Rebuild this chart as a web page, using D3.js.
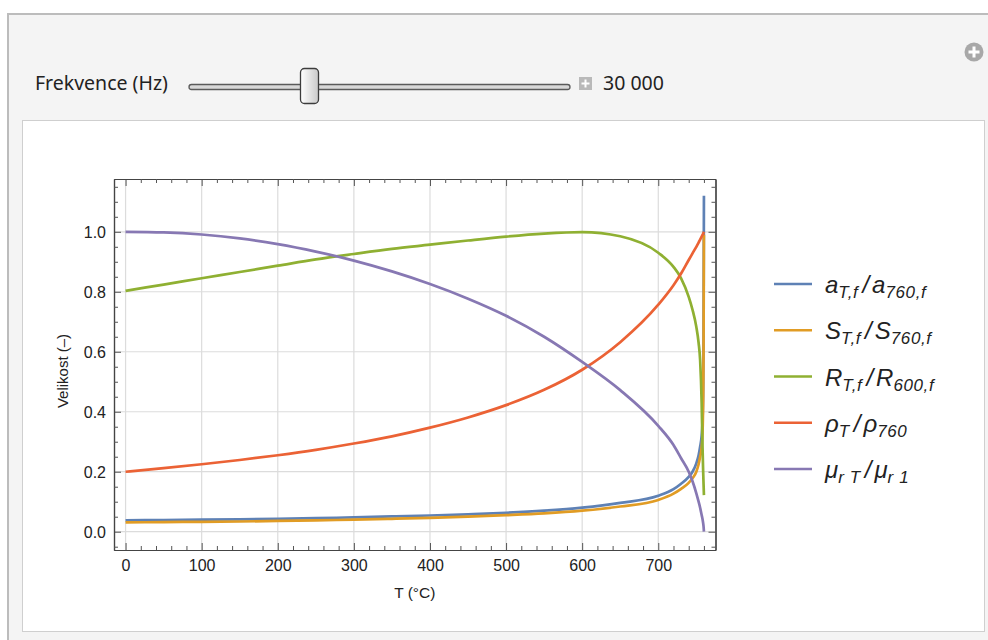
<!DOCTYPE html>
<html>
<head>
<meta charset="utf-8">
<script src="https://cdn.jsdelivr.net/npm/d3@7/dist/d3.min.js"></script>
<style>
  html, body { margin: 0; padding: 0; background: #ffffff; }
  svg { display: block; }
</style>
</head>
<body>
<svg id="chart" width="988" height="640"></svg>
<script>
// Temperature samples (°C)
const temps = [0, 50, 100, 150, 200, 250, 300, 350, 400, 450, 500, 550, 600, 650, 700,
               720, 730, 740, 745, 750, 753, 755, 757, 758, 759, 759.5, 760];

// Normalised quantities at those temperatures
const aRatio = [0.038, 0.039, 0.040, 0.041, 0.043, 0.045, 0.048, 0.051, 0.054, 0.058, 0.063, 0.070, 0.080, 0.096, 0.120,
                0.142, 0.160, 0.183, 0.200, 0.228, 0.255, 0.283, 0.320, 0.360, 0.480, 0.650, 1.120];
const sRatio = [0.031, 0.032, 0.033, 0.034, 0.036, 0.038, 0.040, 0.043, 0.046, 0.050, 0.055, 0.061, 0.070, 0.084, 0.106,
                0.127, 0.143, 0.163, 0.178, 0.200, 0.225, 0.250, 0.280, 0.320, 0.440, 0.600, 0.990];
const rRatio = [0.803, 0.824, 0.845, 0.866, 0.887, 0.908, 0.926, 0.943, 0.957, 0.971, 0.984, 0.994, 0.999, 0.985, 0.930,
                0.883, 0.845, 0.783, 0.740, 0.683, 0.630, 0.572, 0.430, 0.300, 0.200, 0.160, 0.122];
const rhoRatio = [0.200, 0.212, 0.225, 0.239, 0.255, 0.273, 0.294, 0.318, 0.347, 0.381, 0.422, 0.473, 0.540, 0.632, 0.757,
                  0.822, 0.861, 0.906, 0.928, 0.950, 0.964, 0.974, 0.984, 0.989, 0.994, 0.997, 1.000];
const muRatio = [1.000, 0.998, 0.991, 0.978, 0.959, 0.934, 0.904, 0.868, 0.826, 0.777, 0.720, 0.650, 0.566, 0.472, 0.353,
                 0.289, 0.245, 0.200, 0.168, 0.128, 0.100, 0.080, 0.056, 0.044, 0.028, 0.018, 0.000];

const seriesValues = [aRatio, sRatio, rRatio, rhoRatio, muRatio];
const seriesColors = ["#5E81B5", "#E19C24", "#8FB032", "#EB6235", "#8778B3"];

// Legend label pieces: main symbol, numerator subscript, denominator subscript
const legendSymbols = ["a", "S", "R", "ρ", "μ"];
const legendNumSubs = ["T,f", "T,f", "T,f", "T", "r T"];
const legendDenSubs = ["760,f", "760,f", "600,f", "760", "r 1"];

// Axis ticks
const xMajorTicks = [0, 100, 200, 300, 400, 500, 600, 700];
const yMajorTicks = [0.0, 0.2, 0.4, 0.6, 0.8, 1.0];
const xMinorStep = 20;
const yMinorStep = 0.05;

const xTitle = "T (°C)";
const yTitle = "Velikost (–)";
const sliderLabel = "Frekvence (Hz)";
const sliderValue = "30 000";

const svg = d3.select("#chart");

// ---------- control panel ----------
svg.append("rect").attr("x", 8).attr("y", 14).attr("width", 990).attr("height", 640)
  .attr("fill", "#f4f4f4").attr("stroke", "#bcbcbc").attr("stroke-width", 2);

// add-control icon (circled plus)
svg.append("circle").attr("cx", 974).attr("cy", 52).attr("r", 9.5).attr("fill", "#a8a8a8");
svg.append("path").attr("d", "M968.5,52H979.5M974,46.5V57.5")
  .attr("stroke", "#ffffff").attr("stroke-width", 3);

const uiFont = "'Noto Sans', 'Open Sans', sans-serif";
svg.append("text").attr("x", 35).attr("y", 90)
  .attr("font-family", uiFont).attr("font-size", 19.5)
  .attr("fill", "#222").text(sliderLabel);

// slider track
svg.append("rect").attr("x", 189).attr("y", 84.5).attr("width", 381).attr("height", 5).attr("rx", 2.5)
  .attr("fill", "#d8d8d8").attr("stroke", "#5a5a5a").attr("stroke-width", 1.3);
// slider thumb
const thumbGrad = svg.append("defs").append("linearGradient").attr("id", "thumbGrad")
  .attr("x1", 0).attr("x2", 1).attr("y1", 0).attr("y2", 0);
thumbGrad.append("stop").attr("offset", "0%").attr("stop-color", "#ffffff");
thumbGrad.append("stop").attr("offset", "100%").attr("stop-color", "#c9c9c9");
svg.append("rect").attr("x", 300.5).attr("y", 68.5).attr("width", 18).attr("height", 35).attr("rx", 4)
  .attr("fill", "url(#thumbGrad)").attr("stroke", "#3c3c3c").attr("stroke-width", 1.3);

// small plus box next to the slider
svg.append("rect").attr("x", 579).attr("y", 77).attr("width", 13).attr("height", 13)
  .attr("fill", "#b9b9b9");
svg.append("path").attr("d", "M581.5,83.5H589.5M585.5,79.5V87.5")
  .attr("stroke", "#ffffff").attr("stroke-width", 2);

svg.append("text").attr("x", 603).attr("y", 90)
  .attr("font-family", uiFont).attr("font-size", 19.5)
  .attr("fill", "#222").text(sliderValue);

// output area
svg.append("rect").attr("x", 22.5).attr("y", 120.5).attr("width", 962).attr("height", 511)
  .attr("fill", "#ffffff").attr("stroke", "#cfcfcf").attr("stroke-width", 1);

// ---------- plot ----------
const plotLeft = 114, plotRight = 715.5, plotTop = 179, plotBottom = 550;
const x = d3.scaleLinear().domain([-15.2, 775.2]).range([plotLeft, plotRight]);
const y = d3.scaleLinear().domain([-0.061, 1.176]).range([plotBottom, plotTop]);

const font = "'Liberation Sans', Arial, sans-serif";
const g = svg.append("g");

// grid lines
g.append("g").selectAll("line").data(xMajorTicks).join("line")
  .attr("x1", d => x(d)).attr("x2", d => x(d)).attr("y1", plotTop).attr("y2", plotBottom)
  .attr("stroke", "#dcdcdc").attr("stroke-width", 1.2);
g.append("g").selectAll("line").data(yMajorTicks).join("line")
  .attr("x1", plotLeft).attr("x2", plotRight).attr("y1", d => y(d)).attr("y2", d => y(d))
  .attr("stroke", "#dcdcdc").attr("stroke-width", 1.2);

// curves
const line = d3.line().curve(d3.curveMonotoneX)
  .x(d => x(d[0])).y(d => y(d[1]));
const plotClip = svg.append("defs").append("clipPath").attr("id", "plotClip");
plotClip.append("rect").attr("x", plotLeft).attr("y", plotTop)
  .attr("width", plotRight - plotLeft).attr("height", plotBottom - plotTop);
const curves = g.append("g").attr("clip-path", "url(#plotClip)");
seriesValues.forEach((vals, i) => {
  curves.append("path")
    .datum(temps.map((t, k) => [t, vals[k]]))
    .attr("d", line)
    .attr("fill", "none")
    .attr("stroke", seriesColors[i])
    .attr("stroke-width", 2.7)
    .attr("stroke-linejoin", "round");
});

// frame axes with inward ticks on all sides
const xMinor = d3.range(0, 760 + 1e-9, xMinorStep).filter(v => !xMajorTicks.includes(v));
const yMinor = d3.range(-0.05, 1.15 + 1e-9, yMinorStep).map(v => +v.toFixed(2))
  .filter(v => !yMajorTicks.some(m => Math.abs(m - v) < 1e-6));

function frameAxis(axisFn, scale, values, size, fmt) {
  return axisFn(scale).tickValues(values).tickSizeInner(size).tickSizeOuter(0)
    .tickFormat(fmt);
}

const axisColor = "#444";
const layers = [
  {fn: d3.axisBottom, s: x, tr: `translate(0,${plotBottom})`, ticks: xMajorTicks, minor: xMinor, labels: true},
  {fn: d3.axisTop, s: x, tr: `translate(0,${plotTop})`, ticks: xMajorTicks, minor: xMinor, labels: false},
  {fn: d3.axisLeft, s: y, tr: `translate(${plotLeft},0)`, ticks: yMajorTicks, minor: yMinor, labels: true},
  {fn: d3.axisRight, s: y, tr: `translate(${plotRight},0)`, ticks: yMajorTicks, minor: yMinor, labels: false}
];
layers.forEach(L => {
  const fmt = L.labels ? (L.s === y ? d3.format(".1f") : d3.format("d")) : () => "";
  const major = g.append("g").attr("transform", L.tr)
    .call(frameAxis(L.fn, L.s, L.ticks, -7, fmt));
  const minor = g.append("g").attr("transform", L.tr)
    .call(frameAxis(L.fn, L.s, L.minor, -4, () => ""));
  [major, minor].forEach(a => {
    a.select(".domain").attr("stroke", axisColor).attr("stroke-width", 1.2);
    a.selectAll(".tick line").attr("stroke", "#555").attr("stroke-width", 1);
    a.selectAll(".tick text").attr("font-family", font).attr("font-size", 16).attr("fill", "#222");
  });
  if (L.labels) {
    if (L.s === x) major.selectAll(".tick text").attr("y", 10).attr("dy", "0.71em");
    else major.selectAll(".tick text").attr("x", -8).attr("dy", "0.36em");
  }
});

// axis titles
g.append("text").attr("x", (plotLeft + plotRight) / 2).attr("y", 598)
  .attr("text-anchor", "middle").attr("font-family", font).attr("font-size", 15.5)
  .attr("fill", "#222").text(xTitle);
g.append("text").attr("transform", "translate(68,371) rotate(-90)")
  .attr("text-anchor", "middle").attr("font-family", font).attr("font-size", 15)
  .attr("fill", "#222").text(yTitle);

// ---------- legend ----------
const legend = svg.append("g");
legendSymbols.forEach((sym, i) => {
  const ly = 284 + i * 46.25;
  legend.append("line").attr("x1", 774).attr("x2", 812).attr("y1", ly).attr("y2", ly)
    .attr("stroke", seriesColors[i]).attr("stroke-width", 2.7);
  const t = legend.append("text").attr("x", 825).attr("y", ly + 9)
    .attr("font-family", font).attr("font-style", "italic").attr("font-size", 24).attr("fill", "#222");
  t.append("tspan").text(sym);
  t.append("tspan").attr("font-size", 17).attr("letter-spacing", 0.6).attr("dy", 5).text(legendNumSubs[i]);
  t.append("tspan").attr("dy", -5).attr("dx", 4).text("/");
  t.append("tspan").attr("dx", 3).text(sym);
  t.append("tspan").attr("font-size", 17).attr("letter-spacing", 0.6).attr("dy", 5).text(legendDenSubs[i]);
});
</script>
</body>
</html>
